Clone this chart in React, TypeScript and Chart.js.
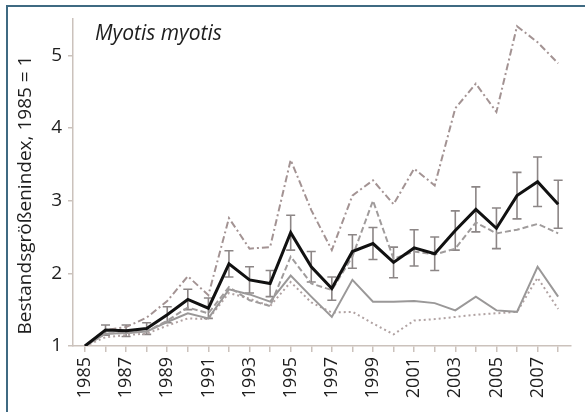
import { useEffect, useRef } from "react";
import { Chart, registerables } from "chart.js";

Chart.register(...registerables);

const years = [1985, 1986, 1987, 1988, 1989, 1990, 1991, 1992, 1993, 1994, 1995, 1996, 1997, 1998, 1999, 2000, 2001, 2002, 2003, 2004, 2005, 2006, 2007, 2008];
const indexValues = [1, 1.22, 1.21, 1.24, 1.43, 1.64, 1.52, 2.13, 1.91, 1.86, 2.56, 2.09, 1.79, 2.3, 2.41, 2.15, 2.35, 2.27, 2.59, 2.88, 2.62, 3.07, 3.26, 2.95];
const errorHalf = [0, 0.07, 0.08, 0.08, 0.11, 0.14, 0.14, 0.18, 0.18, 0.18, 0.24, 0.21, 0.16, 0.23, 0.22, 0.21, 0.25, 0.23, 0.27, 0.31, 0.28, 0.32, 0.34, 0.33];
const upperValues = [1, 1.22, 1.26, 1.39, 1.62, 1.96, 1.7, 2.76, 2.34, 2.36, 3.56, 2.87, 2.32, 3.07, 3.28, 2.95, 3.44, 3.21, 4.27, 4.61, 4.22, 5.4, 5.18, 4.89];
const dashedValues = [1, 1.17, 1.18, 1.2, 1.35, 1.53, 1.45, 1.81, 1.63, 1.55, 2.23, 1.86, 1.77, 2.23, 3.0, 2.2, 2.3, 2.26, 2.34, 2.7, 2.55, 2.6, 2.68, 2.55];
const solidValues = [1, 1.17, 1.18, 1.2, 1.33, 1.45, 1.38, 1.78, 1.71, 1.61, 1.97, 1.68, 1.4, 1.91, 1.61, 1.61, 1.62, 1.59, 1.49, 1.68, 1.49, 1.47, 2.09, 1.68];
const dottedValues = [1, 1.12, 1.15, 1.17, 1.28, 1.38, 1.37, 1.73, 1.65, 1.55, 1.88, 1.6, 1.46, 1.47, 1.31, 1.16, 1.35, 1.37, 1.4, 1.43, 1.45, 1.47, 1.94, 1.51];
const yTickValues = [1, 2, 3, 4, 5];
const chartTitle = "Myotis myotis";
const yAxisTitle = "Bestandsgrößenindex, 1985 = 1";

const FONT = "'Open Sans', 'DejaVu Sans', sans-serif";

const toPoints = (vals: number[]) => years.map((yr, i) => ({ x: yr, y: vals[i] }));

const errorBarPlugin = {
  id: "errorBars",
  beforeDatasetsDraw(chart: any) {
    const { ctx, scales } = chart;
    const xs = scales.x;
    const ys = scales.y;
    ctx.save();
    ctx.strokeStyle = "#8c8686";
    ctx.lineWidth = 1.6;
    years.forEach((yr, i) => {
      const e = errorHalf[i];
      if (!e) return;
      const px = xs.getPixelForValue(yr);
      const top = ys.getPixelForValue(indexValues[i] + e);
      const bot = ys.getPixelForValue(indexValues[i] - e);
      ctx.beginPath();
      ctx.moveTo(px, top);
      ctx.lineTo(px, bot);
      ctx.moveTo(px - 4.5, top);
      ctx.lineTo(px + 4.5, top);
      ctx.moveTo(px - 4.5, bot);
      ctx.lineTo(px + 4.5, bot);
      ctx.stroke();
    });
    ctx.restore();
  },
};

const textPlugin = {
  id: "texts",
  afterDraw(chart: any) {
    const { ctx } = chart;
    ctx.save();
    ctx.fillStyle = "#1e1e1e";
    ctx.font = `italic 21px ${FONT}`;
    ctx.textAlign = "left";
    ctx.textBaseline = "alphabetic";
    ctx.fillText(chartTitle, 95, 40);
    ctx.translate(31, 195);
    ctx.rotate(-Math.PI / 2);
    ctx.font = `19px ${FONT}`;
    ctx.textAlign = "center";
    ctx.fillText(yAxisTitle, 0, 0);
    ctx.restore();
  },
};

export default function App() {
  const ref = useRef<HTMLCanvasElement | null>(null);

  useEffect(() => {
    if (!ref.current) return;
    const axisColor = "#cbc2bc";
    const chart = new Chart(ref.current, {
      type: "line",
      data: {
        datasets: [
          {
            data: toPoints(indexValues),
            borderColor: "#111111",
            borderWidth: 3,
            pointRadius: 0,
            tension: 0,
            order: 0,
          },
          {
            data: toPoints(upperValues),
            borderColor: "#a39393",
            borderWidth: 2,
            borderDash: [7, 3, 2, 3],
            pointRadius: 0,
            tension: 0,
            order: 1,
          },
          {
            data: toPoints(dashedValues),
            borderColor: "#a09c9c",
            borderWidth: 2,
            borderDash: [6, 3],
            pointRadius: 0,
            tension: 0,
            order: 2,
          },
          {
            data: toPoints(solidValues),
            borderColor: "#9a9898",
            borderWidth: 2,
            pointRadius: 0,
            tension: 0,
            order: 3,
          },
          {
            data: toPoints(dottedValues),
            borderColor: "#b0a2a2",
            borderWidth: 2,
            borderDash: [2, 3],
            pointRadius: 0,
            tension: 0,
            order: 4,
          },
        ],
      },
      options: {
        animation: false,
        responsive: false,
        layout: { padding: { top: 19, right: 10, left: 0, bottom: 0 } },
        plugins: {
          legend: { display: false },
          tooltip: { enabled: false },
          title: { display: false },
        },
        scales: {
          x: {
            type: "linear",
            min: 1984.42,
            max: 2008.6,
            afterBuildTicks: (scale: any) => {
              scale.ticks = years.map((v) => ({ value: v }));
            },
            afterFit: (scale: any) => {
              scale.height = 66;
            },
            ticks: {
              autoSkip: false,
              minRotation: 90,
              maxRotation: 90,
              padding: 5,
              color: "#1e1e1e",
              font: { family: FONT, size: 18 },
              callback: (v: any) => (Number(v) % 2 === 1 ? String(v) : ""),
            },
            grid: { drawOnChartArea: false, drawTicks: true, tickLength: 6, color: axisColor, lineWidth: 1.5 },
            border: { display: true, color: axisColor, width: 1.5 },
          },
          y: {
            type: "linear",
            min: 1,
            max: 5.5,
            afterBuildTicks: (scale: any) => {
              scale.ticks = yTickValues.map((v) => ({ value: v }));
            },
            afterFit: (scale: any) => {
              scale.width = 73;
            },
            ticks: {
              padding: 6,
              color: "#1e1e1e",
              font: { family: FONT, size: 19 },
              callback: (v: any) => String(v),
            },
            grid: { drawOnChartArea: false, drawTicks: true, tickLength: 5, color: axisColor, lineWidth: 1.5 },
            border: { display: true, color: axisColor, width: 1.5 },
          },
        },
      },
      plugins: [errorBarPlugin, textPlugin],
    } as any);
    return () => chart.destroy();
  }, []);

  return (
    <div style={{ position: "fixed", left: 0, top: 0, width: 585, height: 412, background: "#ffffff" }}>
      <canvas ref={ref} width={585} height={412} style={{ position: "absolute", left: 0, top: 0, display: "block" }} />
      <div
        style={{
          position: "absolute",
          left: 6,
          top: 5,
          width: 579,
          height: 407,
          borderTop: "2px solid #3f6a82",
          borderLeft: "2px solid #3f6a82",
          pointerEvents: "none",
        }}
      />
    </div>
  );
}
